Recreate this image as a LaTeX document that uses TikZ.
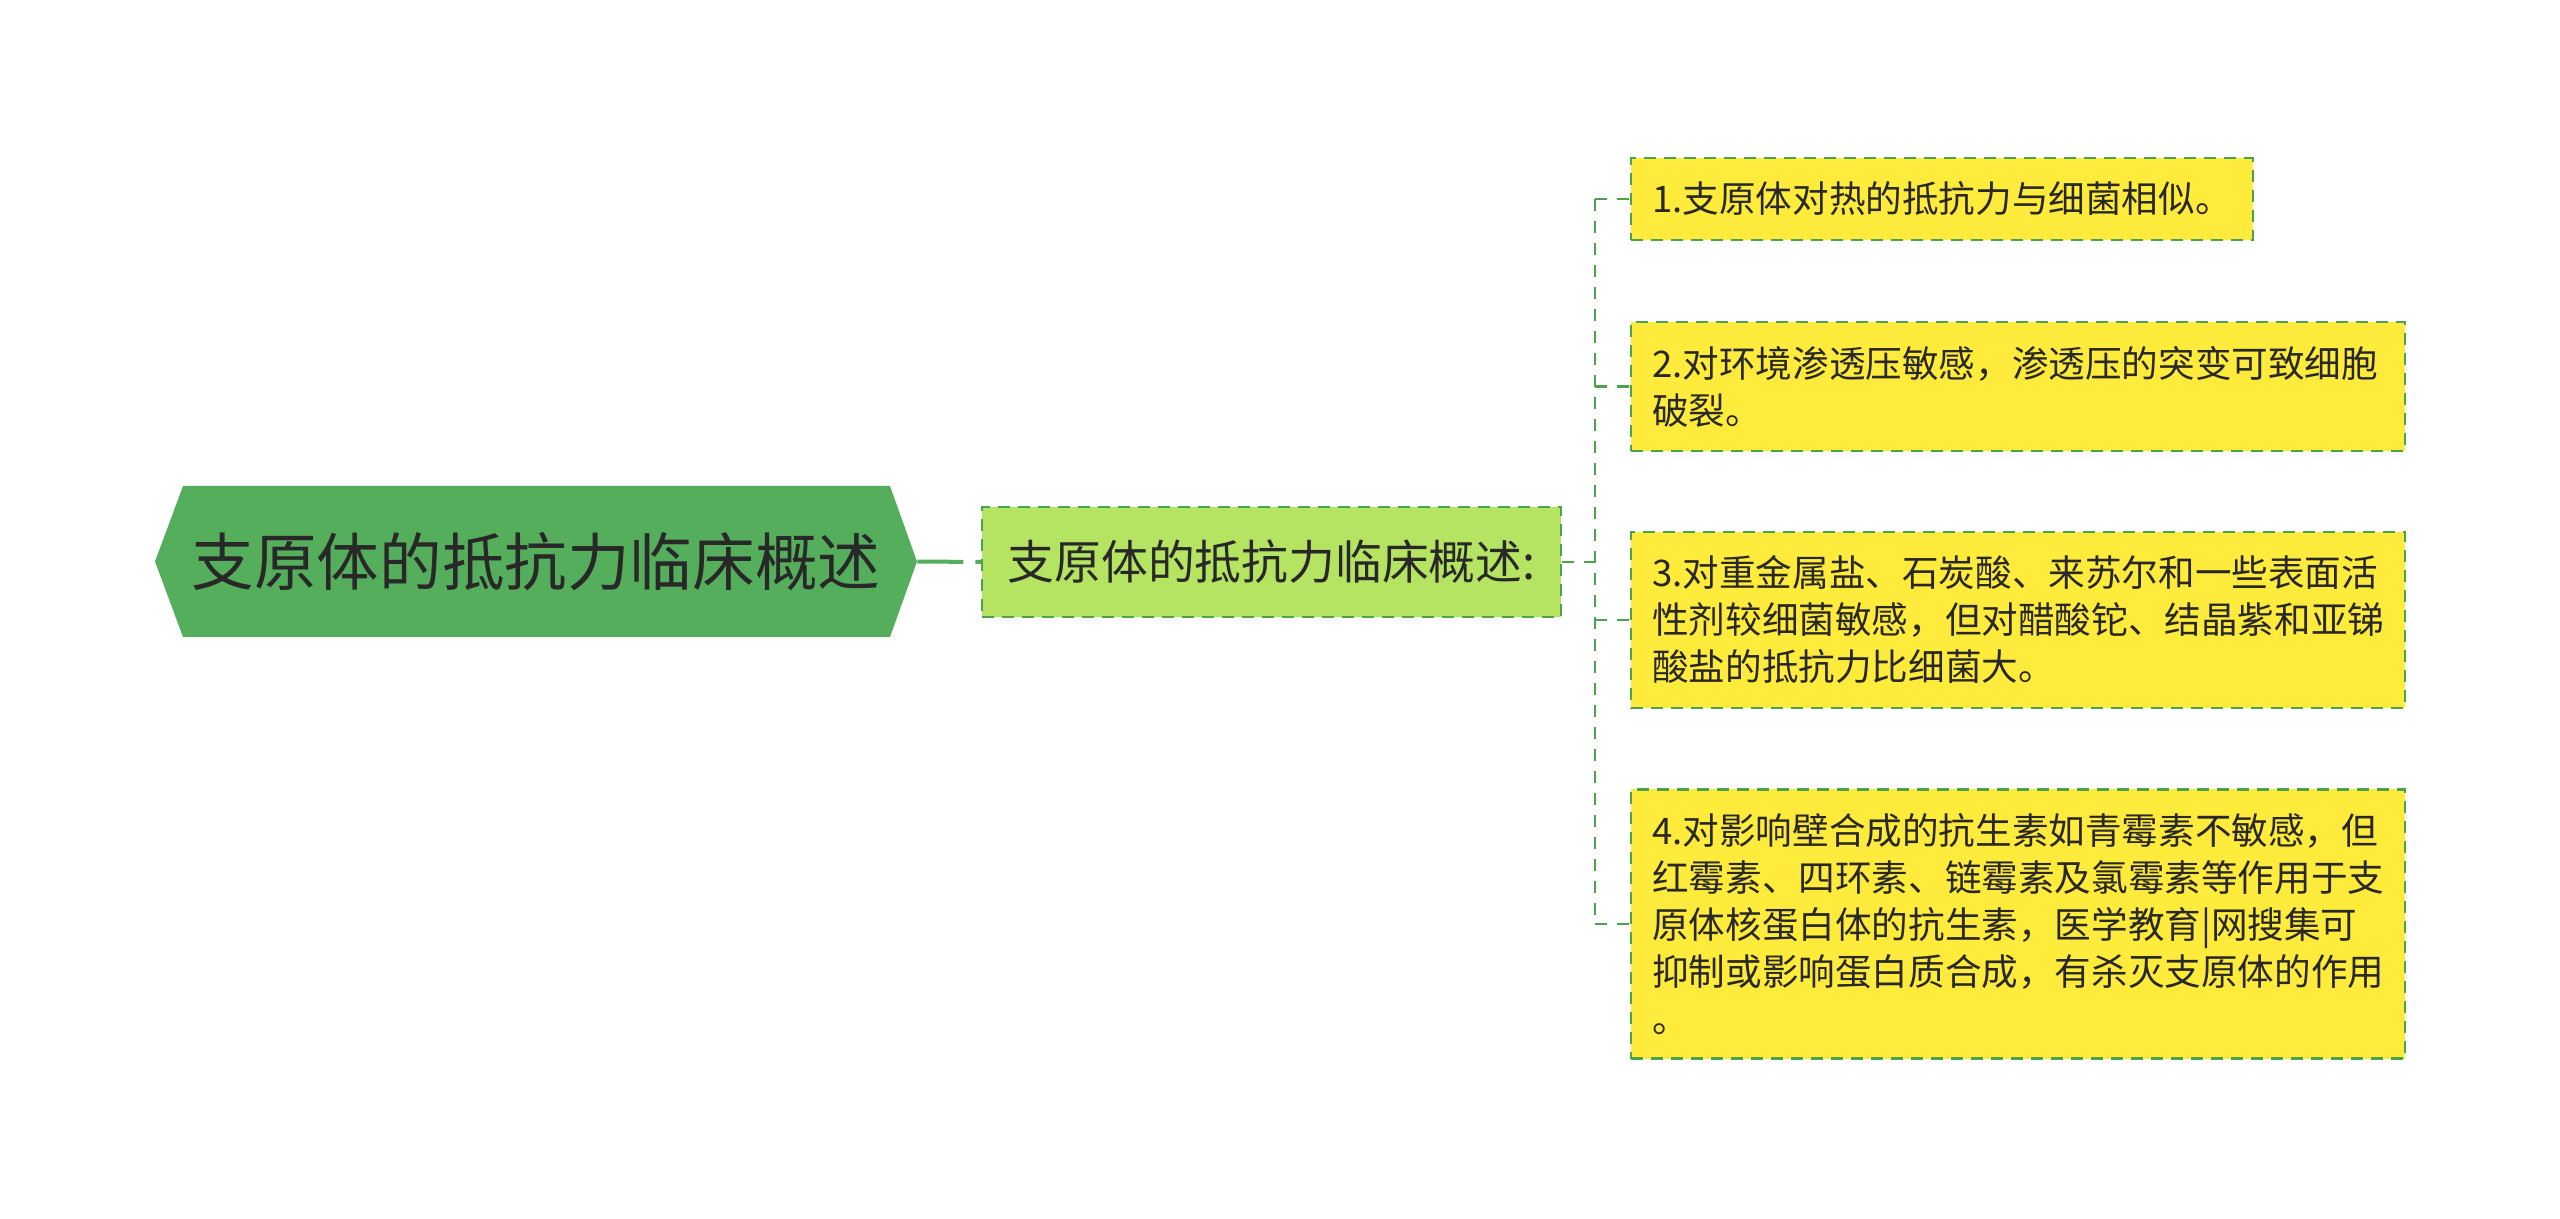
\documentclass[tikz,border=0pt]{standalone}
\usepackage{fontspec}
\newfontfamily\cjk{Noto Sans CJK SC}
\definecolor{rootgreen}{RGB}{84,174,92}
\definecolor{subgreen}{RGB}{180,228,98}
\definecolor{leafyellow}{RGB}{255,235,59}
\definecolor{linegreen}{RGB}{76,163,75}
\definecolor{textdark}{RGB}{40,40,40}
\tikzset{
  rootbox/.style={rectangle, inner sep=0pt, minimum width=381pt, minimum height=75.5pt,
    text=textdark, font=\cjk\fontsize{31.3pt}{38pt}\selectfont},
  subbox/.style={rectangle, draw=linegreen, line width=1.2pt, dash pattern=on 6pt off 4pt,
    fill=subgreen, inner sep=0pt, minimum width=289.5pt, minimum height=55pt,
    text=textdark, font=\cjk\fontsize{23.4pt}{28pt}\selectfont},
  leafbox/.style={rectangle, draw=linegreen, line width=1.2pt, dash pattern=on 6pt off 4pt,
    fill=leafyellow, anchor=west, align=left, inner xsep=10.5pt, inner ysep=12pt,
    text=textdark, font=\cjk\fontsize{18.3pt}{23.5pt}\selectfont},
  wideleaf/.style={leafbox, text width=366pt},
  link/.style={draw=linegreen, line width=1.3pt, dash pattern=on 6pt off 5pt},
  rootlink/.style={draw=rootgreen, line width=2pt, dash pattern=on 23pt off 6pt}
}
\begin{document}
\begin{tikzpicture}[x=0.5pt,y=-0.5pt]
  \useasboundingbox (0,0) rectangle (2560,1219);

  % Define the coordinates
  \coordinate (fork) at (1595,562);

  % Draw the root hexagon
  \fill[rootgreen] (155,561.5) -- (183,486) -- (890,486) -- (917,561.5)
    -- (890,637) -- (183,637) -- cycle;
  \node[rootbox] (root) at (536,561.5) {支原体的抵抗力临床概述};

  % Draw the summary box
  \node[subbox] (sub) at (1271.5,562) {支原体的抵抗力临床概述:};

  % Draw the leaves
  \node[leafbox] (leaf1) at (1630,199) {1.支原体对热的抵抗力与细菌相似。};
  \node[wideleaf] (leaf2) at (1630,386.5) {2.对环境渗透压敏感，渗透压的突变可致细胞\\破裂。};
  \node[wideleaf] (leaf3) at (1630,620) {3.对重金属盐、石炭酸、来苏尔和一些表面活\\性剂较细菌敏感，但对醋酸铊、结晶紫和亚锑\\酸盐的抵抗力比细菌大。};
  \node[wideleaf] (leaf4) at (1630,924) {4.对影响壁合成的抗生素如青霉素不敏感，但\\红霉素、四环素、链霉素及氯霉素等作用于支\\原体核蛋白体的抗生素，医学教育|网搜集可\\抑制或影响蛋白质合成，有杀灭支原体的作用\\。};

  % Draw the connectors
  \draw[rootlink] (root.east) -- (sub.west);
  \draw[link] (sub.east) -- (fork);
  \draw[link] (fork |- leaf1.west) -- (fork |- leaf4.west);
  \foreach \i in {1,...,4}
    \draw[link] (fork |- leaf\i.west) -- (leaf\i.west);
\end{tikzpicture}
\end{document}
